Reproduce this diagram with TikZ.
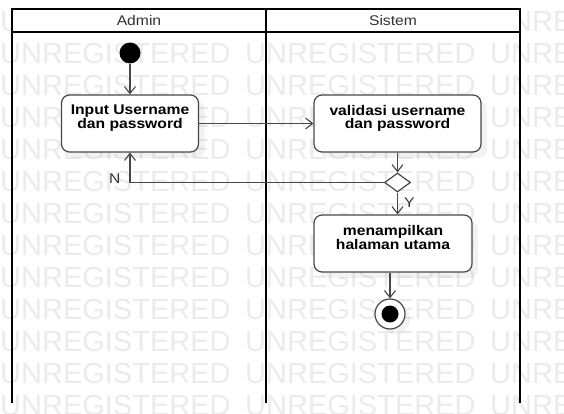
\documentclass[tikz,border=0pt]{standalone}
\usepackage{fontspec}
\setmainfont{Liberation Sans}
\newfontfamily\umlfont{Liberation Sans}[FakeStretch=1.12]
\usetikzlibrary{positioning, arrows.meta, shapes.geometric, shadows}
\definecolor{wmgray}{HTML}{EBEBEB}
\definecolor{linegray}{HTML}{474747}
\tikzstyle{wmtext} = [anchor=west, inner sep=0pt, text depth=0pt, text=wmgray, font=\fontsize{29}{29}\selectfont]
\tikzstyle{lane} = [line width=2pt, black]
\tikzstyle{lanehead} = [inner sep=0pt, text=black!80, font=\umlfont\fontsize{14}{14}\selectfont]
\tikzstyle{action} = [rectangle, rounded corners=8pt, draw=linegray, line width=1.2pt, fill=white, align=center, inner sep=0pt, font=\umlfont\bfseries\fontsize{14}{13}\selectfont, drop shadow={shadow xshift=6pt, shadow yshift=-6pt, opacity=0.1}]
\tikzstyle{initial} = [circle, fill=black, minimum size=21pt, inner sep=0pt]
\tikzstyle{final} = [circle, draw=linegray, line width=1.2pt, fill=white, minimum size=30pt, inner sep=0pt, path picture={\fill[black] (path picture bounding box.center) circle (8.5pt);}, drop shadow={shadow xshift=5pt, shadow yshift=-5pt, opacity=0.1}]
\tikzstyle{decision} = [diamond, draw=linegray, line width=1.2pt, fill=white, minimum width=26pt, minimum height=19pt, inner sep=0pt]
\tikzstyle{flow} = [line width=1.1pt, linegray, -{Straight Barb[length=7pt, width=11pt, line width=1.1pt]}]
\tikzstyle{guard} = [inner sep=0pt, text=black!80, font=\umlfont\fontsize{14}{14}\selectfont]

\begin{document}
\begin{tikzpicture}[x=1pt, y=-1pt]
\useasboundingbox (0,0) rectangle (564,414);

% watermark
\foreach \r in {0,...,12}
  \foreach \c in {0,1,2}
    \node[wmtext] (wm-\r-\c) at (\c*245, 21+\r*32) {UNREGISTERED};

% swimlanes
\fill[white] (12,9) rectangle (520,32);
\draw[lane] (12,403) -- (12,9) -- (520,9) -- (520,403);
\draw[lane] (266,9) -- (266,403);
\draw[lane] (12,32) -- (520,32);
\node[lanehead] (admin) at (139,20.5) {Admin};
\node[lanehead] (sistem) at (393,20.5) {Sistem};

% activities
\node[initial] (start) at (130,53) {};
\node[action, minimum width=137pt, minimum height=57pt] (input) at (130,123.5) {Input Username\\dan password\\~};
\node[action, minimum width=167pt, minimum height=57pt] (validasi) at (397.5,123.5) {validasi username\\dan password\\~};
\node[decision] (cek) at (397.5,182.5) {};
\node[action, minimum width=158pt, minimum height=57pt] (tampil) at (393,243.5) {menampilkan\\halaman utama\\~};
\node[final] (end) at (390,314) {};

% flows
\draw[flow] (start) -- (input);
\draw[flow] (input) -- (validasi);
\draw[flow] (validasi) -- (cek);
\draw[flow] (cek.west) -- (cek.west -| input) node[guard, left=9pt, yshift=4pt] {N} -- (input.south);
\draw[flow] (cek.south) -- (cek.south |- tampil.north) node[guard, pos=0.45, right=6pt] {Y};
\draw[flow] (tampil.south -| end) -- (end);

\end{tikzpicture}
\end{document}
